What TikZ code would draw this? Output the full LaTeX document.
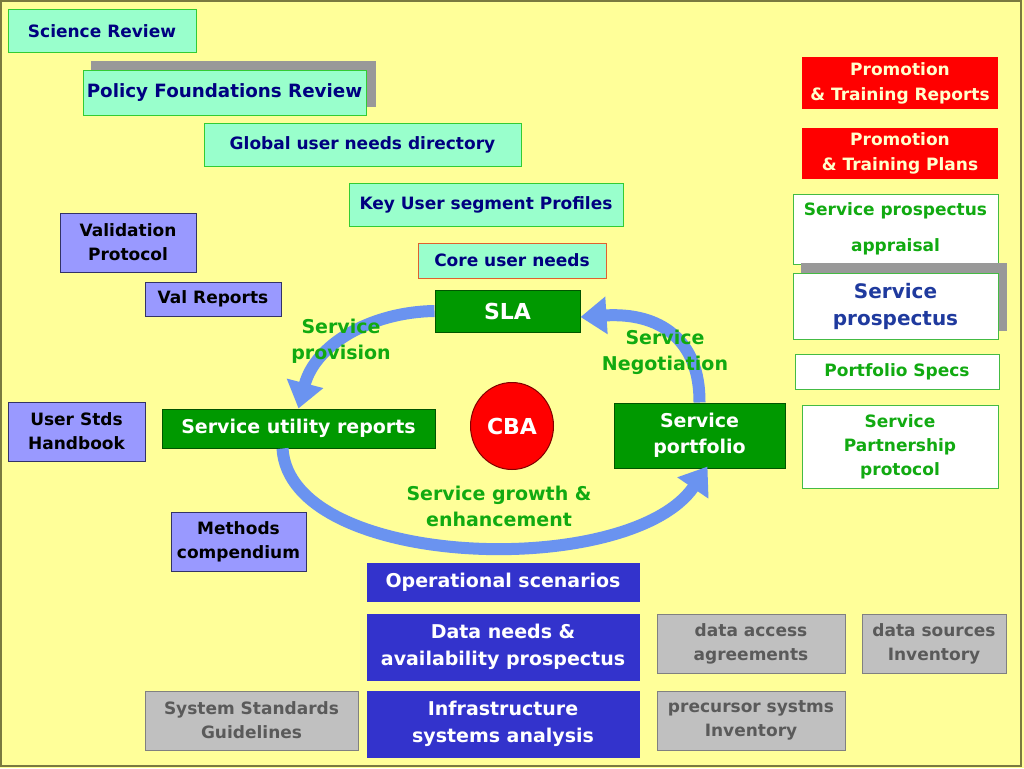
\documentclass[tikz,border=0pt]{standalone}
\usepackage{fontspec}
\setmainfont{DejaVu Sans}
\usetikzlibrary{arrows.meta,shapes.geometric}
\definecolor{bg}{HTML}{FFFF99}
\definecolor{frame}{HTML}{7A7A40}
\definecolor{aq}{HTML}{99FFCC}
\definecolor{aqline}{HTML}{33CC33}
\definecolor{navy}{HTML}{000080}
\definecolor{coreline}{HTML}{E06030}
\definecolor{gfill}{HTML}{009900}
\definecolor{gline}{HTML}{005500}
\definecolor{pfill}{HTML}{9999FF}
\definecolor{pline}{HTML}{333366}
\definecolor{dbfill}{HTML}{3333CC}
\definecolor{grfill}{HTML}{C0C0C0}
\definecolor{grline}{HTML}{808080}
\definecolor{grtext}{HTML}{5A5A5A}
\definecolor{rfill}{HTML}{FF0000}
\definecolor{cream}{HTML}{FFFFCC}
\definecolor{wline}{HTML}{44BB44}
\definecolor{wtext}{HTML}{11AA11}
\definecolor{sptext}{HTML}{1F3A9E}
\definecolor{shadow}{HTML}{999999}
\definecolor{arrowc}{HTML}{6A93F0}
\definecolor{lbl}{HTML}{11AA11}
\newcommand\fs[2]{\fontsize{#1}{#2}\selectfont}
\newcommand\bx[7]{\node[#1, minimum width={#5pt-#3pt}, minimum height={#6pt-#4pt}] (#2) at ({(#3+#5)/2},{(#4+#6)/2}) {#7};}
\begin{document}
\begin{tikzpicture}[x=1pt,y=-1pt,
  base/.style={rectangle, inner sep=0pt, align=center, line width=1pt, font=\fs{17}{24}\bfseries},
  aqbox/.style={base, fill=aq, draw=aqline, text=navy},
  corebox/.style={aqbox, draw=coreline},
  gbox/.style={base, fill=gfill, draw=gline, text=white, font=\fs{19}{26}\bfseries},
  pbox/.style={base, fill=pfill, draw=pline, text=black},
  dbbox/.style={base, fill=dbfill, draw=dbfill, text=white, font=\fs{19}{27}\bfseries},
  grbox/.style={base, fill=grfill, draw=grline, text=grtext},
  rbox/.style={base, fill=rfill, draw=none, text=cream, font=\fs{17}{25}\bfseries},
  wbox/.style={base, fill=white, draw=wline, text=wtext},
  loop/.style={draw=arrowc, line width=12pt, -{Triangle[length=26pt,width=36pt]}},
  lab/.style={align=center, text=lbl, inner sep=0pt, font=\fs{19}{26}\bfseries}]
\useasboundingbox (0,0) rectangle (1024,768);
\fill[bg] (0,0) rectangle (1024,768);
\draw[frame, line width=2pt] (1,1) rectangle (1021,766);

% left aqua column
\bx{aqbox}{sci}{8}{10}{196}{53}{Science Review}
\fill[shadow] (91,61) rectangle (376,107);
\bx{aqbox, font=\fs{18.3}{24}\bfseries}{pfr}{83}{70}{366}{115}{Policy Foundations Review}
\bx{aqbox}{gun}{204}{123}{521}{166}{Global user needs directory}
\bx{aqbox}{kus}{349}{183}{623}{226}{Key User segment Profiles}
\bx{corebox}{cun}{418}{243}{606}{278}{Core user needs}

% purple boxes
\bx{pbox}{vp}{60}{213}{196}{272}{Validation\\Protocol}
\bx{pbox}{vr}{145}{282}{281}{316}{Val Reports}
\bx{pbox}{ush}{8}{402}{145}{461}{User Stds\\Handbook}
\bx{pbox}{mc}{171}{512}{306}{571}{Methods\\compendium}

% central cycle
\bx{gbox, font=\fs{22}{26}\bfseries}{sla}{435}{290}{580}{332}{SLA}
\bx{gbox}{sur}{162}{409}{435}{448}{Service utility reports}
\bx{gbox}{sp}{614}{403}{785}{468}{Service\\portfolio}
\node[ellipse, fill=rfill, draw=black!50!red, line width=1pt, minimum width=83pt, minimum height=87pt, inner sep=0pt, text=white, font=\fs{22}{26}\bfseries] (cba) at (512,426) {CBA};

\draw[loop] (sla.west) .. controls (370,312) and (315,345) .. (sur.north);
\draw[loop] (sp.north) .. controls (700,340) and (660,312) .. ([yshift=-6pt]sla.east);
\draw[loop] ([xshift=-16pt]sur.south) .. controls (290,570) and (630,580) .. ([xshift=8pt,yshift=2pt]sp.south);

\node[lab] (lprov) at (341,341) {Service\\provision};
\node[lab] (lneg) at (665,352) {Service\\Negotiation};
\node[lab] (lgrow) at (499,506) {Service growth \&\\enhancement};

% bottom boxes
\bx{dbbox}{os}{367}{563}{639}{601}{Operational scenarios}
\bx{dbbox}{dn}{367}{614}{639}{680}{Data needs \&\\availability prospectus}
\bx{dbbox}{isa}{367}{691}{639}{757}{Infrastructure\\systems analysis}
\bx{grbox}{ssg}{145}{691}{358}{750}{System Standards\\Guidelines}
\bx{grbox}{daa}{657}{614}{845}{673}{data access\\agreements}
\bx{grbox}{dsi}{862}{614}{1006}{673}{data sources\\Inventory}
\bx{grbox}{psi}{657}{691}{845}{750}{precursor systms\\Inventory}

% right column
\bx{rbox}{ptr}{802}{57}{998}{109}{Promotion\\\& Training Reports}
\bx{rbox}{ptp}{802}{128}{998}{179}{Promotion\\\& Training Plans}
\bx{wbox, font=\fs{17}{36}\bfseries}{spa}{793}{194}{998}{264}{Service prospectus\\appraisal}
\fill[shadow] (801,263) rectangle (1007,331);
\bx{wbox, text=sptext, font=\fs{20}{27}\bfseries}{spr}{793}{273}{998}{339}{Service\\prospectus}
\bx{wbox}{ps}{795}{354}{999}{389}{Portfolio Specs}
\bx{wbox}{spp}{802}{405}{998}{488}{Service\\Partnership\\protocol}
\end{tikzpicture}
\end{document}
